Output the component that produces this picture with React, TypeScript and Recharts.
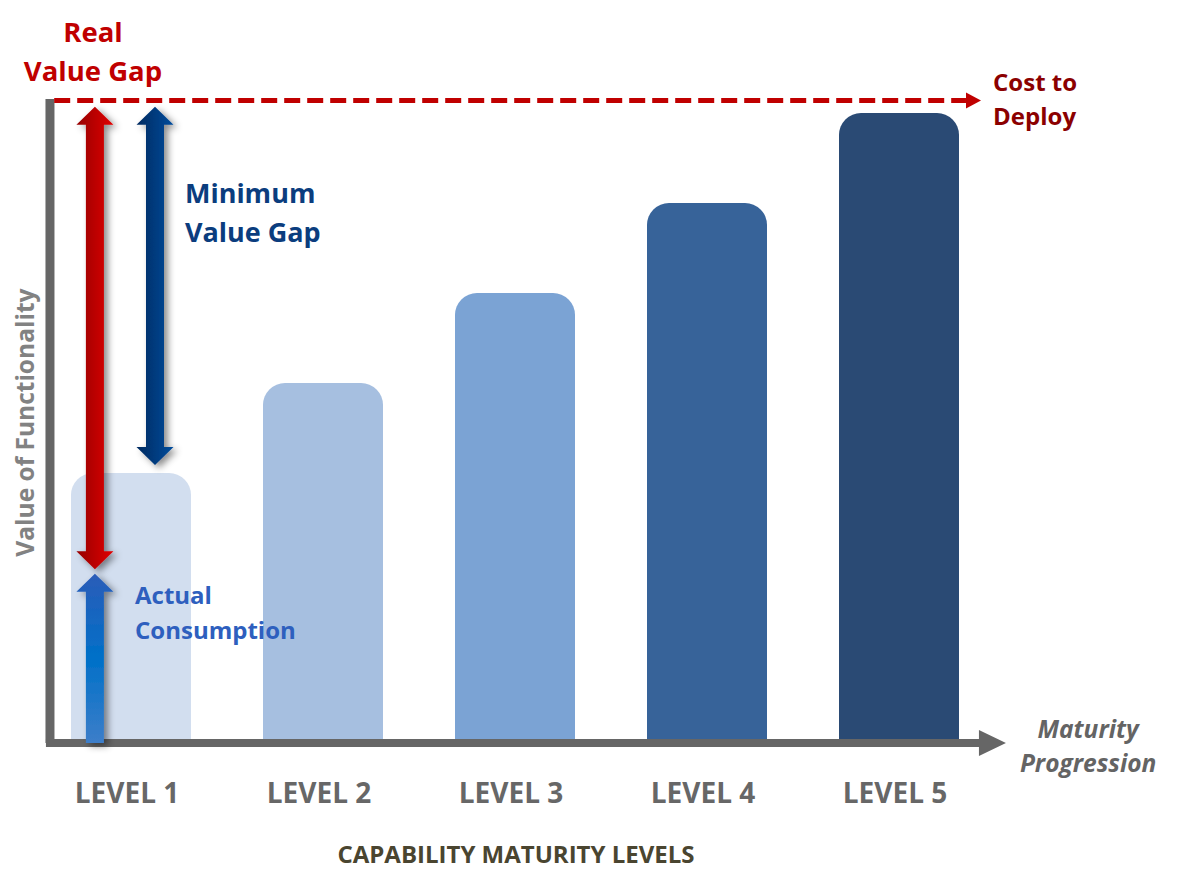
import React from "react";
import {
  ComposedChart,
  Bar,
  Cell,
  XAxis,
  YAxis,
  ReferenceLine,
  ReferenceDot,
} from "recharts";

// maturity levels and the value of functionality each one delivers
const levels = [1, 2, 3, 4, 5];
const levelValues = [3, 4, 5, 6, 7];
const levelColors = ["#D2DEEF", "#A6BFE0", "#7BA3D4", "#376399", "#2A4A74"];

const costToDeploy = 7.14;
const actualConsumption = 1.88;
const realGapBottom = 1.93;
const minGapBottom = 3.09;
const gapTop = 7.07;

// x positions of the annotation arrows (in level units)
const realGapX = 0.812;
const minGapX = 1.125;
const axisX = 0.578;
const axisEndX = 5.557;
const costArrowEndX = 5.427;

const data = levels.map((level, i) => ({ level, value: levelValues[i] }));

const FONT = "'Open Sans', 'Noto Sans', sans-serif";

interface ArrowProps {
  x1?: number;
  y1?: number;
  x2?: number;
  y2?: number;
  fill: string;
  shaft: number;
  head: number;
  headLen: number;
  startHead?: boolean;
  endHead?: boolean;
  filter?: string;
}

const Arrow = ({ x1 = 0, y1 = 0, x2 = 0, y2 = 0, fill, shaft, head, headLen, startHead, endHead, filter }: ArrowProps) => {
  const dx = x2 - x1;
  const dy = y2 - y1;
  const len = Math.hypot(dx, dy) || 1;
  const ux = dx / len;
  const uy = dy / len;
  const nx = -uy;
  const ny = ux;
  const p = (t: number, w: number) => `${x1 + ux * t + nx * w},${y1 + uy * t + ny * w}`;
  const a = startHead ? headLen : 0;
  const b = endHead ? len - headLen : len;
  const pts: string[] = [];
  if (startHead) pts.push(p(0, 0), p(a, head / 2));
  pts.push(p(a, shaft / 2), p(b, shaft / 2));
  if (endHead) pts.push(p(b, head / 2), p(len, 0), p(b, -head / 2));
  pts.push(p(b, -shaft / 2), p(a, -shaft / 2));
  if (startHead) pts.push(p(a, -head / 2));
  return <polygon points={pts.join(" ")} fill={fill} filter={filter} />;
};

const DashedArrow = ({ x1 = 0, y1 = 0, x2 = 0 }: { x1?: number; y1?: number; x2?: number }) => {
  const headLen = 15;
  return (
    <g>
      <line x1={x1} y1={y1} x2={x2 - headLen} y2={y1} stroke="#C00000" strokeWidth={5} strokeDasharray="16 7" />
      <polygon points={`${x2 - headLen},${y1 - 8} ${x2},${y1} ${x2 - headLen},${y1 + 8}`} fill="#C00000" />
    </g>
  );
};

const TwoLines = (lines: string[], color: string, size: number, gap: number, anchor: "start" | "middle", italic = false) =>
  (props: { cx?: number; cy?: number }) => (
    <text
      x={props.cx}
      y={props.cy}
      textAnchor={anchor}
      fill={color}
      fontFamily={FONT}
      fontWeight={700}
      fontStyle={italic ? "italic" : "normal"}
      fontSize={size}
    >
      {lines.map((l, i) => (
        <tspan key={l} x={props.cx} dy={i === 0 ? 0 : gap}>
          {l}
        </tspan>
      ))}
    </text>
  );

const LevelTick = ({ x, y, payload }: { x?: number; y?: number; payload?: { value: number } }) => (
  <text x={(x ?? 0) - 4} y={(y ?? 0) + 52} textAnchor="middle" fill="#676767" fontFamily={FONT} fontWeight={700} fontSize={28}>
    {`LEVEL ${payload?.value}`}
  </text>
);

export default function App() {
  return (
    <div style={{ position: "absolute", left: 0, top: 0, width: 1185, height: 889, background: "#fff" }}>
      <ComposedChart width={1185} height={889} data={data} margin={{ top: 23, right: 190, bottom: 0, left: 0 }}>
        <defs>
          <linearGradient id="redGrad" x1="0" y1="0" x2="1" y2="0">
            <stop offset="0%" stopColor="#960000" />
            <stop offset="100%" stopColor="#E00000" />
          </linearGradient>
          <linearGradient id="navyGrad" x1="0" y1="0" x2="1" y2="0">
            <stop offset="0%" stopColor="#002A60" />
            <stop offset="100%" stopColor="#004C9C" />
          </linearGradient>
          <linearGradient id="blueGrad" x1="0" y1="0" x2="0" y2="1">
            <stop offset="0%" stopColor="#2B5CB8" />
            <stop offset="50%" stopColor="#0070C8" />
            <stop offset="100%" stopColor="#3D7EC9" />
          </linearGradient>
          <filter id="shadow" x="-50%" y="-10%" width="200%" height="120%">
            <feDropShadow dx={4} dy={3} stdDeviation={3.5} floodColor="#000" floodOpacity={0.45} />
          </filter>
        </defs>
        <XAxis
          type="number"
          dataKey="level"
          domain={[0.5, 5.5]}
          ticks={levels}
          axisLine={false}
          tickLine={false}
          tick={<LevelTick />}
          height={146}
          label={({ viewBox }: { viewBox?: { x: number; y: number; width: number } }) => (
            <text
              x={(viewBox?.x ?? 0) + (viewBox?.width ?? 0) / 2 + 1}
              y={(viewBox?.y ?? 0) + 120}
              textAnchor="middle"
              fill="#4A4530"
              fontFamily={FONT}
              fontWeight={700}
              fontSize={24}
            >
              CAPABILITY MATURITY LEVELS
            </text>
          )}
        />
        <YAxis
          type="number"
          domain={[0, 8]}
          axisLine={false}
          tickLine={false}
          tick={false}
          width={35}
          label={({ viewBox }: { viewBox?: { x: number; y: number; height: number } }) => {
            const cx = (viewBox?.x ?? 0) + 25;
            const cy = (viewBox?.y ?? 0) + (viewBox?.height ?? 0) * 0.555;
            return (
              <text
                x={cx}
                y={cy}
                transform={`rotate(-90 ${cx} ${cy})`}
                textAnchor="middle"
                dominantBaseline="central"
                fill="#828282"
                fontFamily={FONT}
                fontWeight={700}
                fontSize={24.5}
              >
                Value of Functionality
              </text>
            );
          }}
        />
        <Bar dataKey="value" barSize={120} radius={[22, 22, 0, 0]} isAnimationActive={false}>
          {data.map((d, i) => (
            <Cell key={d.level} fill={levelColors[i]} />
          ))}
        </Bar>

        {/* axes drawn as thick grey lines with arrow */}
        <ReferenceLine
          segment={[{ x: axisX, y: 0 }, { x: axisX, y: 7.156 }]}
          ifOverflow="visible"
          stroke="#666666"
          strokeWidth={9}
        />
        <ReferenceLine
          segment={[{ x: 0.557, y: 0 }, { x: axisEndX, y: 0 }]}
          ifOverflow="visible"
          shape={(p: any) => <Arrow {...p} fill="#666666" shaft={8} head={26} headLen={27} endHead />}
        />

        {/* cost to deploy */}
        <ReferenceLine
          segment={[{ x: 0.6, y: costToDeploy }, { x: costArrowEndX, y: costToDeploy }]}
          ifOverflow="visible"
          shape={(p: any) => <DashedArrow {...p} />}
        />

        {/* gap arrows */}
        <ReferenceLine
          segment={[{ x: realGapX, y: gapTop }, { x: realGapX, y: realGapBottom }]}
          ifOverflow="visible"
          shape={(p: any) => (
            <Arrow {...p} fill="url(#redGrad)" shaft={18} head={37} headLen={18} startHead endHead filter="url(#shadow)" />
          )}
        />
        <ReferenceLine
          segment={[{ x: minGapX, y: gapTop }, { x: minGapX, y: minGapBottom }]}
          ifOverflow="visible"
          shape={(p: any) => (
            <Arrow {...p} fill="url(#navyGrad)" shaft={18} head={37} headLen={18} startHead endHead filter="url(#shadow)" />
          )}
        />
        <ReferenceLine
          segment={[{ x: realGapX, y: 0 }, { x: realGapX, y: actualConsumption }]}
          ifOverflow="visible"
          shape={(p: any) => (
            <Arrow {...p} fill="url(#blueGrad)" shaft={18} head={37} headLen={18} endHead filter="url(#shadow)" />
          )}
        />

        {/* annotation texts */}
        <ReferenceDot x={0.802} y={7.79} r={0} ifOverflow="visible" shape={TwoLines(["Real", "Value Gap"], "#C00000", 27.5, 39, "middle")} />
        <ReferenceDot x={1.281} y={6.0} r={0} ifOverflow="visible" shape={TwoLines(["Minimum", "Value Gap"], "#0B3D7E", 27, 39, "start")} />
        <ReferenceDot x={5.49} y={7.244} r={0} ifOverflow="visible" shape={TwoLines(["Cost to", "Deploy"], "#8B0000", 24, 34, "start")} />
        <ReferenceDot x={1.021} y={1.544} r={0} ifOverflow="visible" shape={TwoLines(["Actual", "Consumption"], "#2E5FBE", 24, 35, "start")} />
        <ReferenceDot x={5.985} y={0.056} r={0} ifOverflow="visible" shape={TwoLines(["Maturity", "Progression"], "#646464", 24.5, 34, "middle", true)} />
      </ComposedChart>
    </div>
  );
}
